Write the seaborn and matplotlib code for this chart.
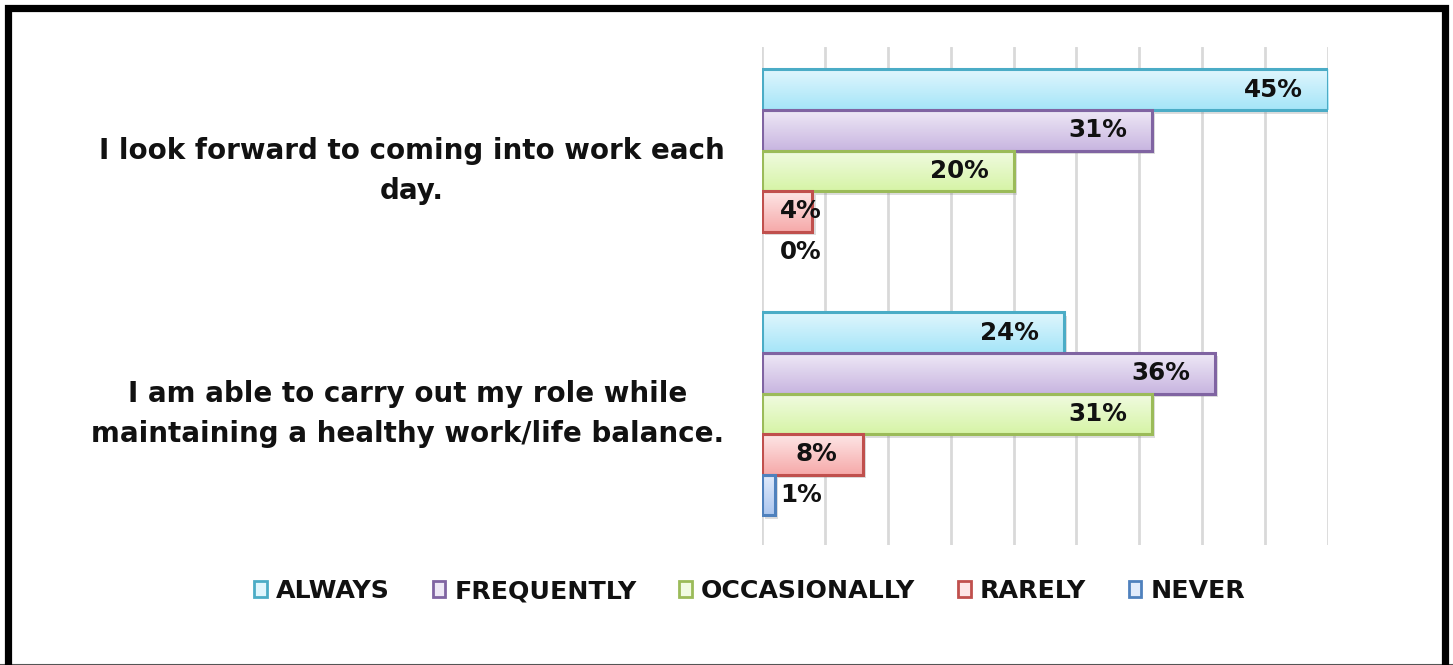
import numpy as np
import pandas as pd
import seaborn as sns
from matplotlib import pyplot as plt
from matplotlib import patheffects
from matplotlib.colors import LinearSegmentedColormap
from matplotlib.patches import Rectangle
from matplotlib.lines import Line2D

# Survey statements (y categories) and response levels (hue)
statements = ["I look forward to coming into work each\nday.",
              "I am able to carry out my role while\nmaintaining a healthy work/life balance."]
responses = ["ALWAYS", "FREQUENTLY", "OCCASIONALLY", "RARELY", "NEVER"]

always = [0.45, 0.24]
frequently = [0.31, 0.36]
occasionally = [0.20, 0.31]
rarely = [0.04, 0.08]
never = [0.00, 0.01]

# gradient fill (top, bottom) and outline colour per response
top_colors = ["#e0f6fd", "#eee8f6", "#f1fbe2", "#fde6e6", "#e1ebfb"]
bottom_colors = ["#a5e5f8", "#c8b5e0", "#d6f4a6", "#f6a9a9", "#adc7ef"]
edge_colors = ["#4bacc6", "#8064a2", "#9bbb59", "#c0504d", "#4f81bd"]

df = pd.DataFrame({'Statement': statements * 5,
                   'Response': np.repeat(responses, 2),
                   'Share': always + frequently + occasionally + rarely + never})

sns.set_style("white")
plt.rcParams['font.family'] = ['DejaVu Sans']
plt.rcParams['font.weight'] = 'bold'

fig = plt.figure(figsize=(14.53, 6.65), dpi=100)
ax = fig.add_axes([0.5244, 0.1805, 0.3896, 0.7488])

sns.barplot(data=df, y='Statement', x='Share', hue='Response', order=statements,
            hue_order=responses, palette=bottom_colors, width=0.835, orient='h',
            legend=False, ax=ax, linewidth=0, saturation=1)

xlim = (0, 0.45)
ylim = (1.54, -0.51)

shadow = [patheffects.SimplePatchShadow(offset=(2.5, -2.5), shadow_rgbFace='#909090', alpha=0.3),
          patheffects.Normal()]

for i, container in enumerate(ax.containers):
    cmap = LinearSegmentedColormap.from_list(responses[i], [top_colors[i], bottom_colors[i]])
    for bar, val in zip(container.patches, container.datavalues):
        x0, y0 = bar.get_x(), bar.get_y()
        w, h = bar.get_width(), bar.get_height()
        if w > 0:
            bar.set_path_effects(shadow)
            grad = np.linspace(0, 1, 64).reshape(-1, 1)
            img = ax.imshow(grad, cmap=cmap, aspect='auto', origin='upper',
                            extent=(x0, x0 + w, y0 + h, y0), zorder=bar.get_zorder() + 0.1,
                            interpolation='bilinear')
            img.set_clip_path(bar)
            ax.add_patch(Rectangle((x0, y0), w, h, fill=False, edgecolor=edge_colors[i],
                                   linewidth=2.2, zorder=bar.get_zorder() + 0.2))
        # data label: inside the bar end, but never left of a minimum position
        ax.annotate(f"{val * 100:.0f}%", xy=(max(val, 0.0676), y0 + h / 2),
                    xytext=(-18, 0), textcoords='offset points', ha='right', va='center',
                    fontsize=17.7, fontweight='bold', color='#111111', zorder=5)

ax.set_xlim(*xlim)
ax.set_ylim(*ylim)
ax.set_xticks(np.arange(0, 0.451, 0.05))
ax.set_xticklabels([])
ax.grid(axis='x', color='#d9d9d9', linewidth=2)
ax.grid(axis='y', visible=False)
ax.set_axisbelow(True)
for s in ax.spines.values():
    s.set_visible(False)
ax.set_xlabel('')
ax.set_ylabel('')
ax.tick_params(axis='both', length=0)
ax.tick_params(axis='y', pad=27)
ax.set_yticks(range(len(statements)))
ax.set_yticklabels(statements, fontsize=20, fontweight='bold', ha='right', va='center',
                   multialignment='center', linespacing=1.55, color='#111111')

handles = [Rectangle((0, 0), 1, 1, facecolor=top_colors[i], edgecolor=edge_colors[i], linewidth=2)
           for i in range(len(responses))]
fig.legend(handles, responses, loc='center', bbox_to_anchor=(0.516, 0.111), ncol=5,
           frameon=False, prop={'size': 18.2, 'weight': 'bold'}, handlelength=0.5,
           handleheight=0.6, handletextpad=0.35, columnspacing=1.7, labelcolor='#111111')

# black frame around the picture
fig.add_artist(Rectangle((7.5 / 1453, -0.01), 1437.5 / 1453, 1 - 8 / 665 + 0.01,
                         transform=fig.transFigure, fill=False, edgecolor='black',
                         linewidth=5.2, zorder=10))
fig.add_artist(Line2D([0, 1], [0.5 / 665, 0.5 / 665], transform=fig.transFigure,
                      color='#555555', linewidth=1.5))

fig.savefig('out.png', dpi=100)
